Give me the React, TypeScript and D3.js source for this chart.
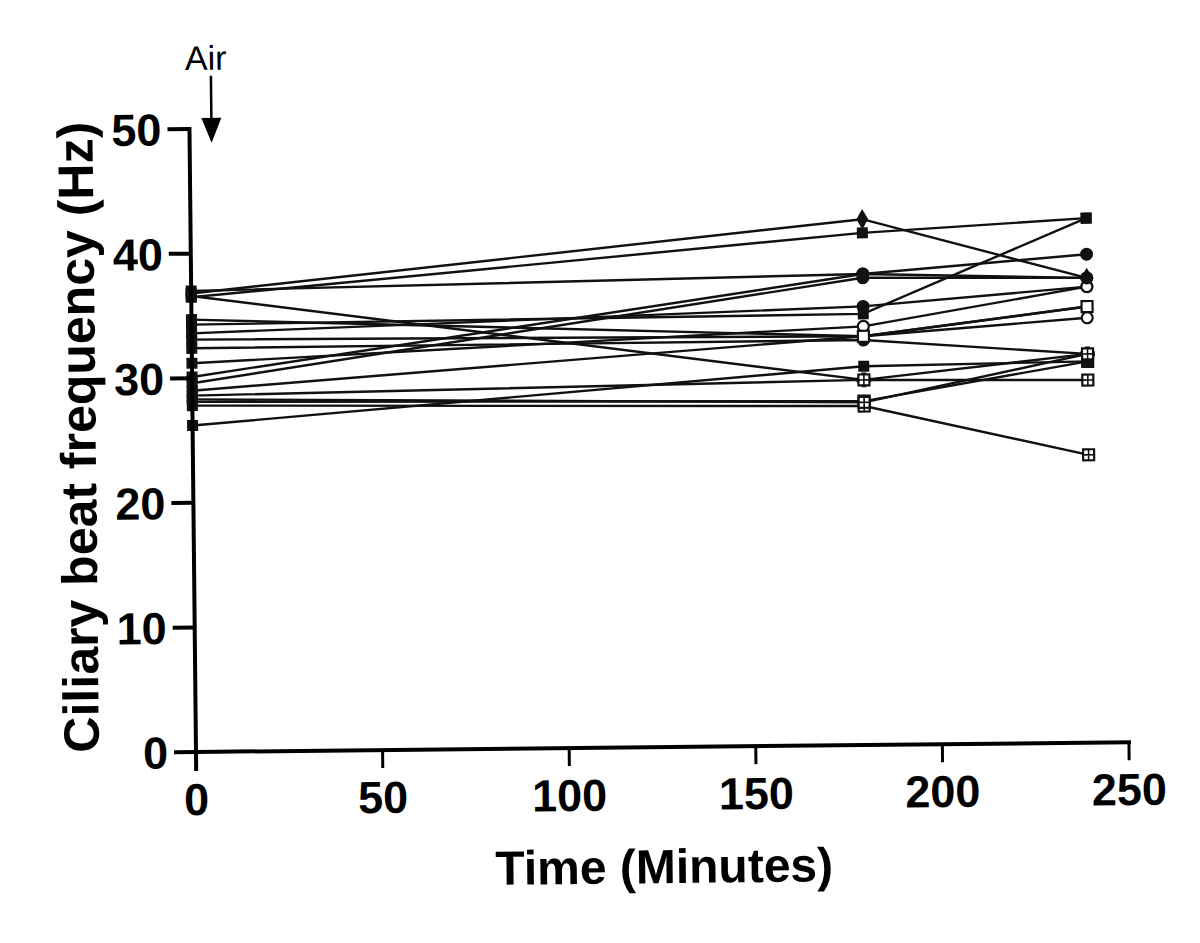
import React from "react";
import * as d3 from "d3";

// Time points (minutes)
const times = [0, 180, 240];
// Ciliary beat frequency (Hz) per subject at each time point
const cbfAt0 = [36.8, 36.5, 37.0, 36.6, 34.7, 34.3, 33.6, 33.1, 32.4, 31.2, 30.1, 29.6, 29.0, 28.6, 28.1, 27.8, 26.2, 28.3];
const cbfAt180 = [42.2, 41.1, 37.8, 29.3, 32.8, 34.6, 35.2, 32.8, 32.5, 33.6, 37.8, 37.5, 32.8, 29.3, 27.6, 27.2, 30.4, 27.5];
const cbfAt240 = [37.3, 42.1, 37.3, 31.2, 35.0, 42.1, 36.6, 34.1, 31.2, 36.6, 39.2, 37.3, 35.0, 29.1, 30.6, 23.1, 30.6, 31.2];
// marker kinds per subject
const markerKinds = ["diamond", "square", "circle", "cross", "square", "square", "circle", "circleOpen", "circle", "circleOpen", "circle", "circle", "squareOpen", "squareX", "squareX", "squareX", "square", "squareX"];

const xTicks = [0, 50, 100, 150, 200, 250];
const yTicks = [0, 10, 20, 30, 40, 50];

export default function App() {
  const W = 1200, H = 943;
  const x = d3.scaleLinear().domain([0, 250]).range([196, 1129]);
  const y = d3.scaleLinear().domain([0, 50]).range([752, 129]);
  const line = d3.line<[number, number]>().x(d => x(d[0])).y(d => y(d[1]));
  const series = cbfAt0.map((v, i) => [cbfAt0[i], cbfAt180[i], cbfAt240[i]]);

  const marker = (kind: string, cx: number, cy: number, key: string) => {
    const s = 5.5;
    switch (kind) {
      case "circle":
        return <circle key={key} cx={cx} cy={cy} r={s + 1} fill="#111" />;
      case "circleOpen":
        return <circle key={key} cx={cx} cy={cy} r={s} fill="#fff" stroke="#111" strokeWidth={2.2} />;
      case "diamond":
        return <path key={key} d={d3.symbol(d3.symbolDiamond, 120)()!} transform={`translate(${cx},${cy})`} fill="#111" />;
      case "squareOpen":
        return <rect key={key} x={cx - s} y={cy - s} width={2 * s} height={2 * s} fill="#fff" stroke="#111" strokeWidth={2.2} />;
      case "squareX":
        return (
          <g key={key}>
            <rect x={cx - s} y={cy - s} width={2 * s} height={2 * s} fill="#fff" stroke="#111" strokeWidth={2.2} />
            <path d={`M${cx - s},${cy}H${cx + s}M${cx},${cy - s}V${cy + s}`} stroke="#111" strokeWidth={1.6} />
          </g>
        );
      case "cross":
        return <path key={key} d={d3.symbol(d3.symbolCross, 120)()!} transform={`translate(${cx},${cy})`} fill="#111" />;
      default:
        return <rect key={key} x={cx - s} y={cy - s} width={2 * s} height={2 * s} fill="#111" />;
    }
  };

  const font = "'Liberation Sans', Arial, sans-serif";

  return (
    <svg width={W} height={H} style={{ display: "block", position: "absolute", left: 0, top: 0, background: "#fff" }}>
      <rect width={W} height={H} fill="#fff" />
      <g transform="rotate(-0.6, 196, 752)">
        {/* data lines */}
        {series.map((vals, i) => (
          <path key={"l" + i} d={line(vals.map((v, j) => [times[j], v]))!} fill="none" stroke="#111" strokeWidth={2.4} />
        ))}
        {series.map((vals, i) =>
          vals.map((v, j) => marker(j === 0 ? "square" : markerKinds[i], x(times[j]), y(v), `m${i}-${j}`))
        )}
        {/* y axis */}
        <line x1={x(0)} x2={x(0)} y1={y(50) - 2} y2={771} stroke="#000" strokeWidth={4} />
        {yTicks.map(t => (
          <g key={"yt" + t}>
            <line x1={x(0) - 22} x2={x(0)} y1={y(t)} y2={y(t)} stroke="#000" strokeWidth={4} />
            <text x={x(0) - 28} y={y(t)} dy="0.36em" textAnchor="end" fontFamily={font} fontWeight="bold" fontSize={45} fill="#000">{t}</text>
          </g>
        ))}
        {/* x axis */}
        <line x1={x(0)} x2={x(250) + 2} y1={y(0)} y2={y(0)} stroke="#000" strokeWidth={4} />
        {xTicks.map(t => (
          <g key={"xt" + t}>
            <line x1={x(t)} x2={x(t)} y1={y(0)} y2={y(0) + 18} stroke="#000" strokeWidth={3} />
            <text x={x(t)} y={y(0) + 63} textAnchor="middle" fontFamily={font} fontWeight="bold" fontSize={45} fill="#000">{t}</text>
          </g>
        ))}
        <text x={663} y={888} textAnchor="middle" fontFamily={font} fontWeight="bold" fontSize={48} fill="#000">Time (Minutes)</text>
        <text transform="translate(99,436) rotate(-90)" textAnchor="middle" fontFamily={font} fontWeight="bold" fontSize={50} fill="#000">Ciliary beat frequency (Hz)</text>
        {/* Air arrow */}
        <text x={213} y={70} textAnchor="middle" fontFamily={font} fontSize={34} fill="#000">Air</text>
        <line x1={218} x2={218} y1={76} y2={122} stroke="#000" strokeWidth={2.5} />
        <path d="M208,118 L228,118 L218,143 Z" fill="#000" />
      </g>
    </svg>
  );
}
